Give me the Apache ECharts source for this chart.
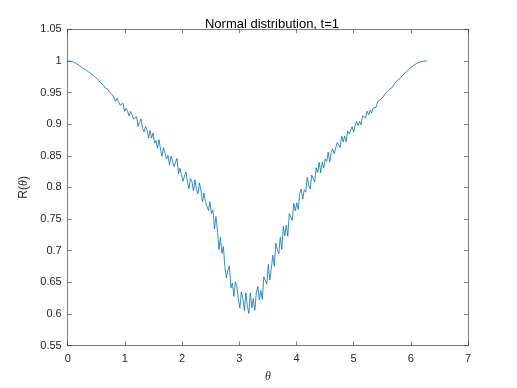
<!DOCTYPE html>
<html>
<head>
<meta charset="utf-8">
<script src="https://cdn.jsdelivr.net/npm/echarts@6/dist/echarts.min.js"></script>
<style>
html,body{margin:0;padding:0;background:#fff;}
#chart{width:517px;height:388px;}
</style>
</head>
<body>
<div id="chart"></div>
<script>
const rValues = [
1.000, 1.000, 0.9995, 0.999, 0.998, 0.997, 0.9955, 0.994, 0.9925, 0.991,
0.989, 0.9875, 0.986, 0.9845, 0.9825, 0.9805, 0.979, 0.977, 0.975, 0.973,
0.971, 0.970, 0.9655, 0.967, 0.9614, 0.9573, 0.9593, 0.9548, 0.9499, 0.953,
0.9463, 0.949, 0.936, 0.941, 0.940, 0.930, 0.929, 0.933, 0.920, 0.925,
0.9205, 0.913, 0.920, 0.9195, 0.908, 0.908, 0.912, 0.896, 0.904, 0.9085,
0.893, 0.888, 0.8965, 0.891, 0.878, 0.890, 0.878, 0.886, 0.870, 0.874,
0.862, 0.8756, 0.8606, 0.8492, 0.863, 0.8658, 0.8448, 0.8507, 0.835, 0.8493,
0.8504, 0.833, 0.8329, 0.846, 0.8214, 0.8304, 0.8312, 0.8097, 0.818, 0.8246,
0.8077, 0.798, 0.814, 0.8091, 0.7946, 0.8118, 0.7966, 0.7898, 0.807, 0.7958,
0.7772, 0.7912, 0.7774, 0.7794, 0.7634, 0.7774, 0.759, 0.7642, 0.7344, 0.7542,
0.7326, 0.702, 0.7208, 0.6956, 0.7064, 0.674, 0.6568, 0.6694, 0.676, 0.6412,
0.6488, 0.6276, 0.6506, 0.643, 0.6228, 0.609, 0.6348, 0.6246, 0.6054, 0.6332,
0.6124, 0.6006, 0.633, 0.6098, 0.6244, 0.6058, 0.634, 0.6434, 0.6222, 0.637,
0.623, 0.6586, 0.6582, 0.647, 0.6782, 0.6536, 0.6714, 0.6928, 0.6754, 0.712,
0.7018, 0.6952, 0.721, 0.7018, 0.7384, 0.7236, 0.7404, 0.723, 0.7586, 0.7556,
0.748, 0.7747, 0.7628, 0.7756, 0.765, 0.7908, 0.7974, 0.7819, 0.7963, 0.7925,
0.816, 0.8034, 0.7973, 0.8195, 0.8199, 0.8086, 0.8311, 0.8237, 0.8397, 0.8232,
0.8402, 0.831, 0.845, 0.841, 0.856, 0.840, 0.855, 0.861, 0.853, 0.850,
0.871, 0.867, 0.863, 0.881, 0.872, 0.881, 0.872, 0.889, 0.885, 0.883,
0.896, 0.8874, 0.8988, 0.9043, 0.8975, 0.9044, 0.899, 0.9132, 0.9131, 0.9098,
0.9206, 0.915, 0.9218, 0.9179, 0.9256, 0.9274, 0.9266, 0.936, 0.9333, 0.939,
0.9368, 0.9442, 0.9452, 0.9508, 0.9506, 0.9554, 0.9585, 0.9584, 0.9631, 0.9646,
0.9687, 0.970, 0.9725, 0.975, 0.978, 0.980, 0.9825, 0.985, 0.987, 0.989,
0.991, 0.993, 0.9945, 0.996, 0.997, 0.998, 0.9987, 0.9993, 0.9997, 0.9999,
1.000
];
const xTicks = [0, 1, 2, 3, 4, 5, 6, 7];
const yTicks = [0.55, 0.6, 0.65, 0.7, 0.75, 0.8, 0.85, 0.9, 0.95, 1, 1.05];
const titleText = 'Normal distribution, t=1';

const n = rValues.length;
const seriesData = rValues.map((v, i) => [i * 2 * Math.PI / (n - 1), v]);

const axisColor = '#262626';
const fontFam = 'Liberation Sans, Arial, Helvetica, sans-serif';
const xMin = xTicks[0], xMax = xTicks[xTicks.length - 1];
const yMin = yTicks[0], yMax = yTicks[yTicks.length - 1];

const chart = echarts.init(document.getElementById('chart'), null, {renderer: 'canvas'});
function yFmt(v) { return String(Math.round(v * 100) / 100); }

const baseX = {
  type: 'value', min: xMin, max: xMax, interval: 1,
  axisLine: {show: true, onZero: false, lineStyle: {color: axisColor, width: 0.6}},
  axisTick: {show: true, inside: true, length: 4, lineStyle: {color: axisColor, width: 0.6}},
  splitLine: {show: false}
};
const baseY = {
  type: 'value', min: yMin, max: yMax, interval: 0.05,
  axisLine: {show: true, onZero: false, lineStyle: {color: axisColor, width: 0.6}},
  axisTick: {show: true, inside: true, length: 4, lineStyle: {color: axisColor, width: 0.6}},
  splitLine: {show: false}
};

chart.setOption({
  animation: false,
  backgroundColor: '#ffffff',
  title: {
    text: titleText, left: 267, top: 13, textAlign: 'center',
    textStyle: {fontFamily: fontFam, fontSize: 13, fontWeight: 'normal', color: '#000'}
  },
  grid: {left: 67.7, right: 49, top: 29.3, bottom: 42.5, containLabel: false},
  xAxis: [
    Object.assign({}, baseX, {
      position: 'bottom',
      axisLabel: {show: true, margin: 8, color: axisColor, fontFamily: fontFam, fontSize: 11},
      name: '{t|θ}', nameLocation: 'middle', nameGap: 25,
      nameTextStyle: {rich: {t: {fontFamily: 'Liberation Serif, DejaVu Serif, serif', fontStyle: 'italic', fontSize: 12, color: axisColor}}}
    }),
    Object.assign({}, baseX, {position: 'top', axisLabel: {show: false}})
  ],
  yAxis: [
    Object.assign({}, baseY, {
      position: 'left',
      axisLabel: {show: true, margin: 6, color: axisColor, fontFamily: fontFam, fontSize: 11, formatter: yFmt},
      name: '{r|R(}{t|θ}{r|)}', nameLocation: 'middle', nameGap: 25,
      nameTextStyle: {rich: {
        r: {fontFamily: fontFam, fontSize: 12, color: axisColor},
        t: {fontFamily: 'Liberation Serif, DejaVu Serif, serif', fontStyle: 'italic', fontSize: 12, color: axisColor}
      }}
    }),
    Object.assign({}, baseY, {position: 'right', axisLabel: {show: false}})
  ],
  series: [{
    type: 'line', xAxisIndex: 0, yAxisIndex: 0,
    data: seriesData, showSymbol: false, symbol: 'none', sampling: null,
    lineStyle: {color: '#0072BD', width: 0.8}
  }]
});
</script>
</body>
</html>
